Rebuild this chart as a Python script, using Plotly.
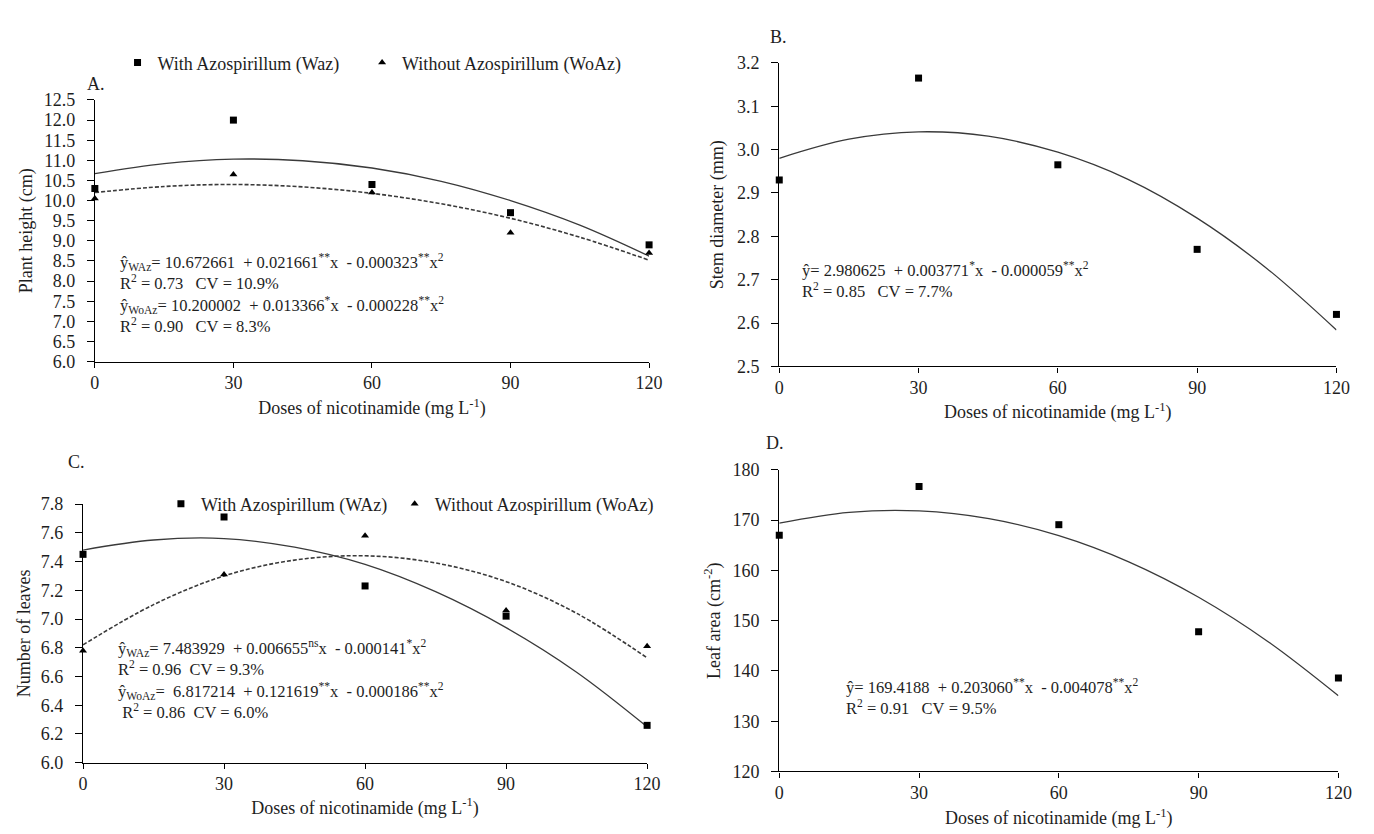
import plotly.graph_objects as go

# ---------------- data ----------------
doses = [0, 30, 60, 90, 120]
fit_x = [0, 15, 30, 45, 60, 75, 90, 105, 120]

# A. Plant height (cm)
height_waz = [10.3, 12.0, 10.4, 9.7, 8.9]
height_woaz = [10.05, 10.65, 10.2, 9.2, 8.7]
height_fit_waz = [10.67, 10.92, 11.03, 10.99, 10.81, 10.48, 10.00, 9.39, 8.62]
height_fit_woaz = [10.20, 10.35, 10.40, 10.34, 10.18, 9.92, 9.56, 9.09, 8.52]

# B. Stem diameter (mm)
stem = [2.93, 3.165, 2.965, 2.77, 2.62]
stem_fit = [2.980, 3.024, 3.041, 3.031, 2.994, 2.932, 2.842, 2.726, 2.584]

# C. Number of leaves
leaves_waz = [7.45, 7.71, 7.23, 7.02, 6.26]
leaves_woaz = [6.78, 7.31, 7.58, 7.06, 6.81]
leaves_fit_waz = [7.48, 7.55, 7.56, 7.50, 7.38, 7.19, 6.94, 6.63, 6.25]
leaves_fit_woaz = [6.82, 7.10, 7.30, 7.41, 7.44, 7.39, 7.26, 7.04, 6.73]

# D. Leaf area (cm-2)
leaf_area = [167.0, 176.7, 169.1, 147.8, 138.6]
leaf_area_fit = [169.42, 171.55, 171.84, 170.30, 166.92, 161.71, 154.67, 145.78, 135.07]

x_ticks = [0, 30, 60, 90, 120]

# ---------------- styling ----------------
W, H = 1374, 834
FONT = "Liberation Serif"
TXT = "#1e1e1e"
LINE = "#3a3a3a"
NB = "\u00a0"
TICK_SIZE = 18
EQ_SIZE = 16.5

def fx(p):
    return p / W

def fy(p):
    return 1 - p / H

fig = go.Figure()

def markers(x, y, sym, name, xa, ya, legend="legend", show=False):
    fig.add_trace(go.Scatter(
        x=x, y=y, mode="markers", name=name,
        marker=dict(symbol=sym, size=7, color="black"),
        xaxis=xa, yaxis=ya, showlegend=show, legend=legend, cliponaxis=False))

def curve(x, y, xa, ya, dash="solid"):
    fig.add_trace(go.Scatter(
        x=x, y=y, mode="lines",
        line=dict(color=LINE, width=1.3 if dash == "solid" else 1.6,
                  dash=dash, shape="spline", smoothing=1.0),
        xaxis=xa, yaxis=ya, showlegend=False, hoverinfo="skip", cliponaxis=False))

# A
curve(fit_x, height_fit_waz, "x", "y")
curve(fit_x, height_fit_woaz, "x", "y", dash="4px,2px")
markers(doses, height_waz, "square", "With Azospirillum (Waz)", "x", "y", "legend", True)
markers(doses, height_woaz, "triangle-up", "Without Azospirillum (WoAz)", "x", "y", "legend3", True)
# B
curve(fit_x, stem_fit, "x2", "y2")
markers(doses, stem, "square", "Stem diameter", "x2", "y2")
# C
curve(fit_x, leaves_fit_waz, "x3", "y3")
curve(fit_x, leaves_fit_woaz, "x3", "y3", dash="4px,2px")
markers(doses, leaves_waz, "square", "With Azospirillum (WAz)", "x3", "y3", "legend2", True)
markers(doses, leaves_woaz, "triangle-up", "Without Azospirillum (WoAz)", "x3", "y3", "legend4", True)
# D
curve(fit_x, leaf_area_fit, "x4", "y4")
markers(doses, leaf_area, "square", "Leaf area", "x4", "y4")

xtitle = "Doses of nicotinamide" + NB + "(mg" + NB + "L<sup>-1</sup>)"

def xaxis(dom, anchor, standoff):
    return dict(domain=[fx(dom[0]), fx(dom[1])], anchor=anchor, range=[0, 120],
                tickvals=x_ticks, showline=True, linecolor="black", linewidth=1.2,
                ticks="outside", ticklen=5, tickcolor="black", showgrid=False, zeroline=False,
                tickfont=dict(family=FONT, size=TICK_SIZE, color=TXT),
                title=dict(text=xtitle, font=dict(family=FONT, size=TICK_SIZE, color=TXT),
                           standoff=standoff))

def yaxis(dom, anchor, rng, dtick, fmt, title, standoff):
    return dict(domain=[fy(dom[1]), fy(dom[0])], anchor=anchor, range=rng, dtick=dtick,
                tick0=rng[0], tickformat=fmt, showline=True, linecolor="black", linewidth=1.2,
                ticks="outside", ticklen=7, tickcolor="black", ticklabelstandoff=8,
                showgrid=False, zeroline=False,
                tickfont=dict(family=FONT, size=TICK_SIZE, color=TXT),
                title=dict(text=title, font=dict(family=FONT, size=TICK_SIZE, color=TXT),
                           standoff=standoff))

def legend_at(x, y):
    return dict(orientation="h", x=fx(x), y=fy(y), xanchor="left", yanchor="middle",
                font=dict(family=FONT, size=TICK_SIZE, color=TXT), bgcolor="rgba(0,0,0,0)",
                itemwidth=30, tracegroupgap=0)

fig.update_layout(
    width=W, height=H, margin=dict(l=0, r=0, t=0, b=0),
    paper_bgcolor="white", plot_bgcolor="white",
    font=dict(family=FONT, size=TICK_SIZE, color=TXT),
    xaxis=xaxis((83, 645), "y", 9),
    yaxis=yaxis((84, 352), "x", [6.0, 12.5], 0.5, ".1f", "Plant height (cm)", 6),
    xaxis2=xaxis((777, 1342), "y2", 8),
    yaxis2=yaxis((46, 357), "x2", [2.5, 3.2], 0.1, ".1f", "Stem diameter (mm)", 8),
    xaxis3=xaxis((71, 643), "y3", 7),
    yaxis3=yaxis((498, 763), "x3", [6.0, 7.8], 0.2, ".1f", "Number of leaves", 5),
    xaxis4=xaxis((777, 1344), "y4", 9),
    yaxis4=yaxis((463, 772), "x4", [120, 180], 10, "d", "Leaf area (cm<sup>-2</sup>)", 7),
    legend=legend_at(106, 46),
    legend3=legend_at(354, 46),
    legend2=legend_at(150, 498),
    legend4=legend_at(387, 498),
)

def note(text, x, y, size=EQ_SIZE):
    fig.add_annotation(text=text, x=fx(x), y=fy(y), xref="paper", yref="paper",
                       xanchor="left", yanchor="middle", showarrow=False, align="left",
                       font=dict(family=FONT, size=size, color=TXT))

# panel labels
note("A.", 73, 68, TICK_SIZE)
note("B.", 766, 19, TICK_SIZE)
note("C.", 54, 455, TICK_SIZE)
note("D.", 762, 435, TICK_SIZE)

sp = NB * 2
eq_a = "<br>".join([
    "ŷ<sub>WAz</sub>= 10.672661" + sp + "+ 0.021661<sup>**</sup>x" + sp + "- 0.000323<sup>**</sup>x<sup>2</sup>",
    "R<sup>2</sup> = 0.73" + sp + " CV" + NB + "=" + NB + "10.9%",
    "ŷ<sub>WoAz</sub>= 10.200002" + sp + "+ 0.013366<sup>*</sup>x" + sp + "- 0.000228<sup>**</sup>x<sup>2</sup>",
    "R<sup>2</sup> = 0.90" + sp + " CV" + NB + "=" + NB + "8.3%",
])
eq_b = "<br>".join([
    "ŷ= 2.980625" + sp + "+ 0.003771<sup>*</sup>x" + sp + "- 0.000059<sup>**</sup>x<sup>2</sup>",
    "R<sup>2</sup> = 0.85" + sp + " CV" + NB + "= 7.7%",
])
eq_c = "<br>".join([
    "ŷ<sub>WAz</sub>= 7.483929" + sp + "+ 0.006655<sup>ns</sup>x" + sp + "- 0.000141<sup>*</sup>x<sup>2</sup>",
    "R<sup>2</sup> = 0.96" + NB + " CV = 9.3%",
    "ŷ<sub>WoAz</sub>=" + NB + " 6.817214" + sp + "+ 0.121619<sup>**</sup>x" + sp + "- 0.000186<sup>**</sup>x<sup>2</sup>",
    NB + "R<sup>2</sup> = 0.86" + NB + " CV = 6.0%",
])
eq_d = "<br>".join([
    "ŷ= 169.4188" + sp + "+ 0.203060<sup>**</sup>x" + sp + "- 0.004078<sup>**</sup>x<sup>2</sup>",
    "R<sup>2</sup> = 0.91" + sp + " CV" + NB + "= 9.5%",
])
note(eq_a, 106, 282)
note(eq_b, 798, 268)
note(eq_c, 104, 678)
note(eq_d, 843, 696)

fig.write_html("out.html")
